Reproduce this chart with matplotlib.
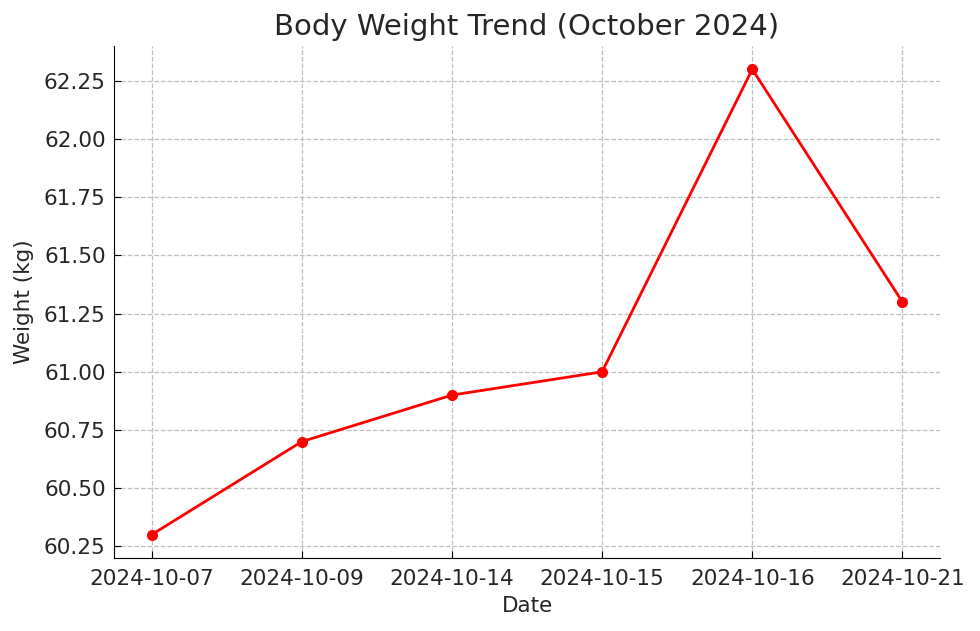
import matplotlib
matplotlib.use("Agg")
import matplotlib.pyplot as plt

# Data
dates = ["2024-10-07", "2024-10-09", "2024-10-14", "2024-10-15", "2024-10-16", "2024-10-21"]
weights = [60.3, 60.7, 60.9, 61.0, 62.3, 61.3]

txt = "#262626"
fig = plt.figure(figsize=(9.8, 6.31), dpi=100)
ax = fig.add_axes([114 / 980, 1 - 558 / 631, (940 - 114) / 980, (558 - 46) / 631])

ax.plot(dates, weights, color="red", marker="o", linewidth=2, markersize=7)

ax.set_title("Body Weight Trend (October 2024)", fontsize=21, pad=8, color=txt)
ax.set_xlabel("Date", fontsize=15.5, color=txt, labelpad=5)
ax.set_ylabel("Weight (kg)", fontsize=15.5, color=txt, labelpad=7)
ax.tick_params(labelsize=15.5, direction="in", length=5, pad=6, labelcolor=txt)
ax.tick_params(axis="x", pad=8)
ax.grid(True, linestyle="--", color="#bfbfbf", linewidth=0.9)
ax.spines["top"].set_visible(False)
ax.spines["right"].set_visible(False)
ax.set_yticks([60.25, 60.5, 60.75, 61.0, 61.25, 61.5, 61.75, 62.0, 62.25])
ax.yaxis.set_major_formatter(matplotlib.ticker.FormatStrFormatter("%.2f"))

fig.savefig("out.png", dpi=100)
